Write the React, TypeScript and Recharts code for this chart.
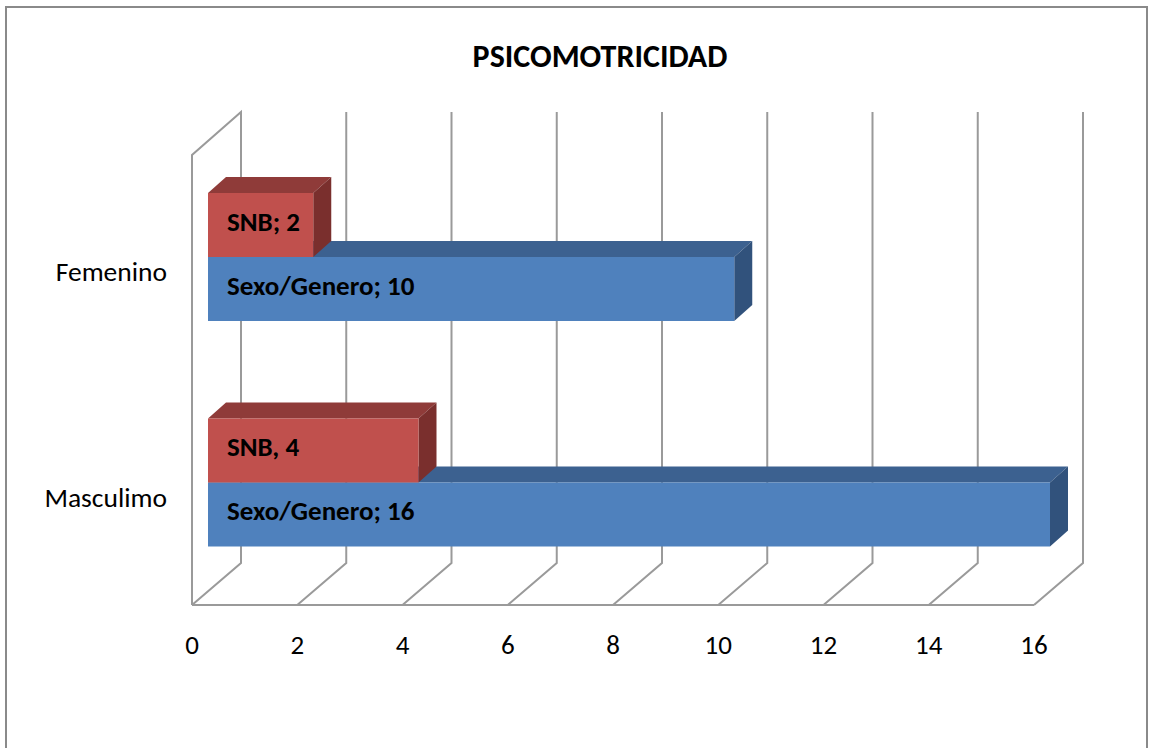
import { BarChart, Bar, XAxis, YAxis, CartesianGrid, ReferenceArea } from "recharts";

const categories = ["Femenino", "Masculimo"];
const snbValues = [2, 4];
const sexoValues = [10, 16];
const snbLabels = ["SNB; 2", "SNB, 4"];
const sexoLabels = ["Sexo/Genero; 10", "Sexo/Genero; 16"];
const xTicks = [0, 2, 4, 6, 8, 10, 12, 14, 16];

const FONT = "Carlito, Calibri, Lato, sans-serif";
const GRID = "#9a9a9a";
// 3d offsets
const WALL_DX = 49;
const WALL_DY = 42;
const BAR_OFF = 16;
const DX = 18;
const DY = 16;

const data = categories.map((name, i) => ({
  name,
  snb: snbValues[i],
  sexo: sexoValues[i],
}));

function gridLine(p: any) {
  const top = Math.min(p.y1, p.y2);
  const bottom = Math.max(p.y1, p.y2);
  const fx = p.x1 - BAR_OFF;
  const fy = bottom + 10;
  return (
    <path
      key={`g-${p.index}`}
      d={`M${fx},${fy} L${fx + WALL_DX},${fy - WALL_DY} L${fx + WALL_DX},${top - 32}`}
      stroke={GRID}
      strokeWidth={2}
      fill="none"
    />
  );
}

function Frame(p: any) {
  const { x, y, width, height } = p;
  const fx = x - BAR_OFF;
  const fy = y + height + 10;
  const topFront = y + 11;
  return (
    <g>
      <path
        d={`M${fx},${fy} L${fx},${topFront} L${fx + WALL_DX},${topFront - WALL_DY - 1} L${fx + WALL_DX},${fy - WALL_DY}`}
        stroke={GRID}
        strokeWidth={2}
        fill="none"
      />
      <line x1={fx} y1={fy} x2={fx + width} y2={fy} stroke={GRID} strokeWidth={2} />
    </g>
  );
}

function bar3d(front: string, topC: string, side: string, shift: number, labels: string[]) {
  return (p: any) => {
    const { x, width, height, index } = p;
    const y = p.y + shift * height;
    const w = width;
    return (
      <g>
        <polygon
          points={`${x},${y} ${x + DX},${y - DY} ${x + w + DX},${y - DY} ${x + w},${y}`}
          fill={topC}
        />
        <polygon
          points={`${x + w},${y} ${x + w + DX},${y - DY} ${x + w + DX},${y + height - DY} ${x + w},${y + height}`}
          fill={side}
        />
        <rect x={x} y={y} width={w} height={height} fill={front} />
        <text
          x={x + 19}
          y={y + height / 2 - 4}
          dominantBaseline="central"
          fontFamily={FONT}
          fontWeight="bold"
          fontSize={27}
          fill="#000"
        >
          {labels[index]}
        </text>
      </g>
    );
  };
}

function XTick(p: any) {
  return (
    <text
      x={p.x - BAR_OFF}
      y={p.y + 51}
      textAnchor="middle"
      fontFamily={FONT}
      fontSize={27}
      fill="#000"
    >
      {p.payload.value}
    </text>
  );
}

function YTick(p: any) {
  return (
    <text
      x={p.x - 33}
      y={p.y + 15}
      textAnchor="end"
      dominantBaseline="central"
      fontFamily={FONT}
      fontSize={27.5}
      fill="#000"
    >
      {p.payload.value}
    </text>
  );
}

export default function App() {
  return (
    <div
      style={{
        position: "absolute",
        left: 0,
        top: 0,
        width: 1150,
        height: 748,
        overflow: "hidden",
        background: "#fff",
      }}
    >
      <div
        style={{
          position: "absolute",
          left: 5,
          top: 6,
          width: 1139,
          height: 800,
          border: "2px solid #8a8a8a",
        }}
      />
      <div
        style={{
          position: "absolute",
          left: 0,
          top: 39,
          width: 1200,
          textAlign: "center",
          fontFamily: FONT,
          fontWeight: "bold",
          fontSize: 32,
          lineHeight: "36px",
          color: "#000",
        }}
      >
        PSICOMOTRICIDAD
      </div>
      <div style={{ position: "absolute", left: 0, top: 0 }}>
        <BarChart
          width={1150}
          height={748}
          data={data}
          layout="vertical"
          margin={{ top: 144, right: 100, bottom: 93, left: 0 }}
          barGap={0}
          barSize={64}
        >
          <CartesianGrid horizontal={false} vertical={gridLine} />
          <ReferenceArea x1={0} x2={16} shape={Frame} fill="none" />
          <XAxis
            type="number"
            domain={[0, 16]}
            ticks={xTicks}
            interval={0}
            axisLine={false}
            tickLine={false}
            height={60}
            tick={XTick}
          />
          <YAxis
            type="category"
            dataKey="name"
            width={208}
            axisLine={false}
            tickLine={false}
            tick={YTick}
          />
          <Bar
            dataKey="sexo"
            isAnimationActive={false}
            shape={bar3d("#4F81BD", "#3C6190", "#31527C", 1, sexoLabels)}
          />
          <Bar
            dataKey="snb"
            isAnimationActive={false}
            shape={bar3d("#C0504D", "#8F3B39", "#7A2F2D", -1, snbLabels)}
          />
        </BarChart>
      </div>
    </div>
  );
}
